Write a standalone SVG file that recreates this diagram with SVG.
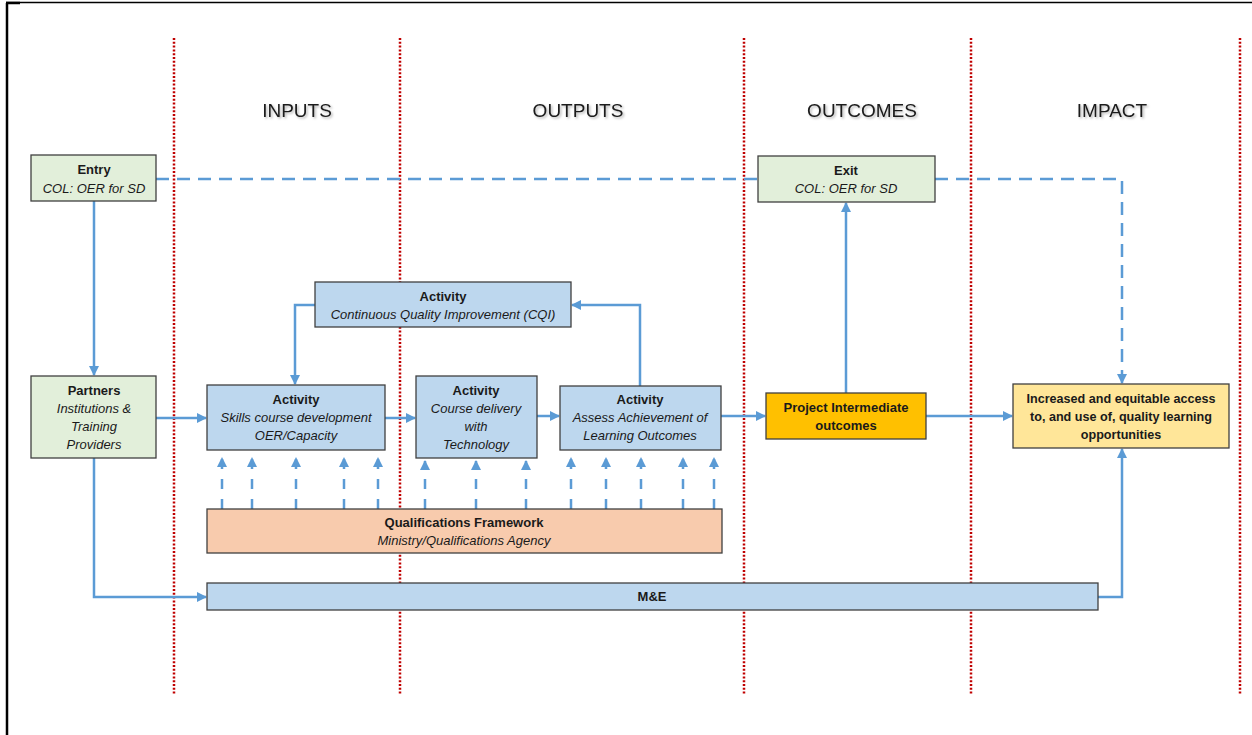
<svg xmlns="http://www.w3.org/2000/svg" width="1252" height="735" viewBox="0 0 1252 735">
<style>
text{font-family:"Liberation Sans",Arial,sans-serif;font-size:13px;fill:#1a1a1a;text-anchor:middle}
.b{font-weight:bold}
.i{font-style:italic}
.hdr{font-size:19px;fill:#1a1a1a;filter:url(#sh)}
.blue{fill:#BDD7EE;stroke:#404040;stroke-width:1.3}
.green{fill:#E2EFDA;stroke:#404040;stroke-width:1.3}
.red{stroke:#C00000;stroke-width:2.5;stroke-dasharray:2 1.8;fill:none}
.c{stroke:#5B9BD5;stroke-width:2.5;fill:none}
.cd{stroke:#5B9BD5;stroke-width:2.5;fill:none;stroke-dasharray:13 8}
.cq{stroke:#5B9BD5;stroke-width:2.5;fill:none;stroke-dasharray:10 10}
</style>
<defs>
<marker id="a" viewBox="0 0 10 10" refX="9" refY="5" markerWidth="4" markerHeight="4" orient="auto" markerUnits="strokeWidth">
<path d="M0,0 L10,5 L0,10 z" fill="#5B9BD5"/>
</marker>
<filter id="sh" x="-10%" y="-20%" width="130%" height="160%">
<feDropShadow dx="1.5" dy="1.5" stdDeviation="1" flood-color="#000" flood-opacity="0.3"/>
</filter>
</defs>
<rect width="1252" height="735" fill="#fff"/>
<g id="frame">
<line x1="7" y1="3" x2="7" y2="735" stroke="#000" stroke-width="2.5"/>
<line x1="6" y1="2.5" x2="1252" y2="2.5" stroke="#000" stroke-width="1.5"/>
<line x1="6" y1="3" x2="20" y2="3" stroke="#000" stroke-width="2.5"/>
</g>
<g id="lanes">
<line class="red" x1="174" y1="38" x2="174" y2="695"/>
<line class="red" x1="400" y1="38" x2="400" y2="695"/>
<line class="red" x1="744" y1="38" x2="744" y2="695"/>
<line class="red" x1="971" y1="38" x2="971" y2="695"/>
<line class="red" x1="1240" y1="38" x2="1240" y2="695"/>
</g>
<g id="headers">
<text class="hdr" x="297" y="117">INPUTS</text>
<text class="hdr" x="578" y="117">OUTPUTS</text>
<text class="hdr" x="862" y="117">OUTCOMES</text>
<text class="hdr" x="1112" y="117">IMPACT</text>
</g>
<g id="connectors">
<path class="cd" d="M156,179 H758"/>
<path class="cd" d="M935,179 H1122 V383" marker-end="url(#a)"/>
<path class="c" d="M94,201 V375" marker-end="url(#a)"/>
<path class="c" d="M156,418 H206" marker-end="url(#a)"/>
<path class="c" d="M315,305 H295 V384" marker-end="url(#a)"/>
<path class="c" d="M385,418 H415" marker-end="url(#a)"/>
<path class="c" d="M537,416 H559" marker-end="url(#a)"/>
<path class="c" d="M640,386 V305 H572" marker-end="url(#a)"/>
<path class="c" d="M721,416 H765" marker-end="url(#a)"/>
<path class="c" d="M846,393 V203" marker-end="url(#a)"/>
<path class="c" d="M926,416 H1012" marker-end="url(#a)"/>
<path class="c" d="M94,458 V597 H206" marker-end="url(#a)"/>
<path class="c" d="M1098,597 H1122 V449" marker-end="url(#a)"/>
<g id="qf-arrows">
<path class="cq" d="M222,509 V458" marker-end="url(#a)"/>
<path class="cq" d="M252,509 V458" marker-end="url(#a)"/>
<path class="cq" d="M296,509 V458" marker-end="url(#a)"/>
<path class="cq" d="M344,509 V458" marker-end="url(#a)"/>
<path class="cq" d="M378,509 V458" marker-end="url(#a)"/>
<path class="cq" d="M425,509 V461" marker-end="url(#a)"/>
<path class="cq" d="M476,509 V461" marker-end="url(#a)"/>
<path class="cq" d="M526,509 V461" marker-end="url(#a)"/>
<path class="cq" d="M571,509 V458" marker-end="url(#a)"/>
<path class="cq" d="M606,509 V458" marker-end="url(#a)"/>
<path class="cq" d="M641,509 V458" marker-end="url(#a)"/>
<path class="cq" d="M683,509 V458" marker-end="url(#a)"/>
<path class="cq" d="M714,509 V458" marker-end="url(#a)"/>
</g>
</g>
<g id="entry">
<rect class="green" x="31" y="155" width="125" height="46"/>
<text class="b" x="94" y="174">Entry</text>
<text class="i" x="94" y="193">COL: OER for SD</text>
</g>
<g id="exit">
<rect class="green" x="758" y="156" width="177" height="46"/>
<text class="b" x="846" y="175">Exit</text>
<text class="i" x="846" y="193">COL: OER for SD</text>
</g>
<g id="partners">
<rect class="green" x="31" y="376" width="125" height="82"/>
<text class="b" x="94" y="395">Partners</text>
<text class="i" x="94" y="413">Institutions &amp;</text>
<text class="i" x="94" y="431">Training</text>
<text class="i" x="94" y="449">Providers</text>
</g>
<g id="cqi">
<rect class="blue" x="315" y="282" width="256" height="45"/>
<text class="b" x="443" y="301">Activity</text>
<text class="i" x="443" y="319">Continuous Quality Improvement (CQI)</text>
</g>
<g id="activity-skills">
<rect class="blue" x="207" y="385" width="178" height="65"/>
<text class="b" x="296" y="404">Activity</text>
<text class="i" x="296" y="422">Skills course development</text>
<text class="i" x="296" y="440">OER/Capacity</text>
</g>
<g id="activity-delivery">
<rect class="blue" x="416" y="376" width="121" height="82"/>
<text class="b" x="476" y="395">Activity</text>
<text class="i" x="476" y="413">Course delivery</text>
<text class="i" x="476" y="431">with</text>
<text class="i" x="476" y="449">Technology</text>
</g>
<g id="activity-assess">
<rect class="blue" x="560" y="386" width="161" height="64"/>
<text class="b" x="640" y="404">Activity</text>
<text class="i" x="640" y="422">Assess Achievement of</text>
<text class="i" x="640" y="440">Learning Outcomes</text>
</g>
<g id="project">
<rect x="766" y="393" width="160" height="46" fill="#FFC000" stroke="#404040" stroke-width="1.3"/>
<text class="b" x="846" y="412">Project Intermediate</text>
<text class="b" x="846" y="430">outcomes</text>
</g>
<g id="impact">
<rect x="1013" y="384" width="216" height="64" fill="#FFE699" stroke="#404040" stroke-width="1.3"/>
<text class="b" x="1121" y="403" style="font-size:12.6px">Increased and equitable access</text>
<text class="b" x="1121" y="421" style="font-size:12.6px">to, and use of, quality learning</text>
<text class="b" x="1121" y="439" style="font-size:12.6px">opportunities</text>
</g>
<g id="qf">
<rect x="207" y="509" width="515" height="44" fill="#F8CBAD" stroke="#404040" stroke-width="1.3"/>
<text class="b" x="464" y="527">Qualifications Framework</text>
<text class="i" x="464" y="545">Ministry/Qualifications Agency</text>
</g>
<g id="me">
<rect class="blue" x="207" y="583" width="891" height="27"/>
<text class="b" x="652" y="601">M&amp;E</text>
</g>
</svg>
